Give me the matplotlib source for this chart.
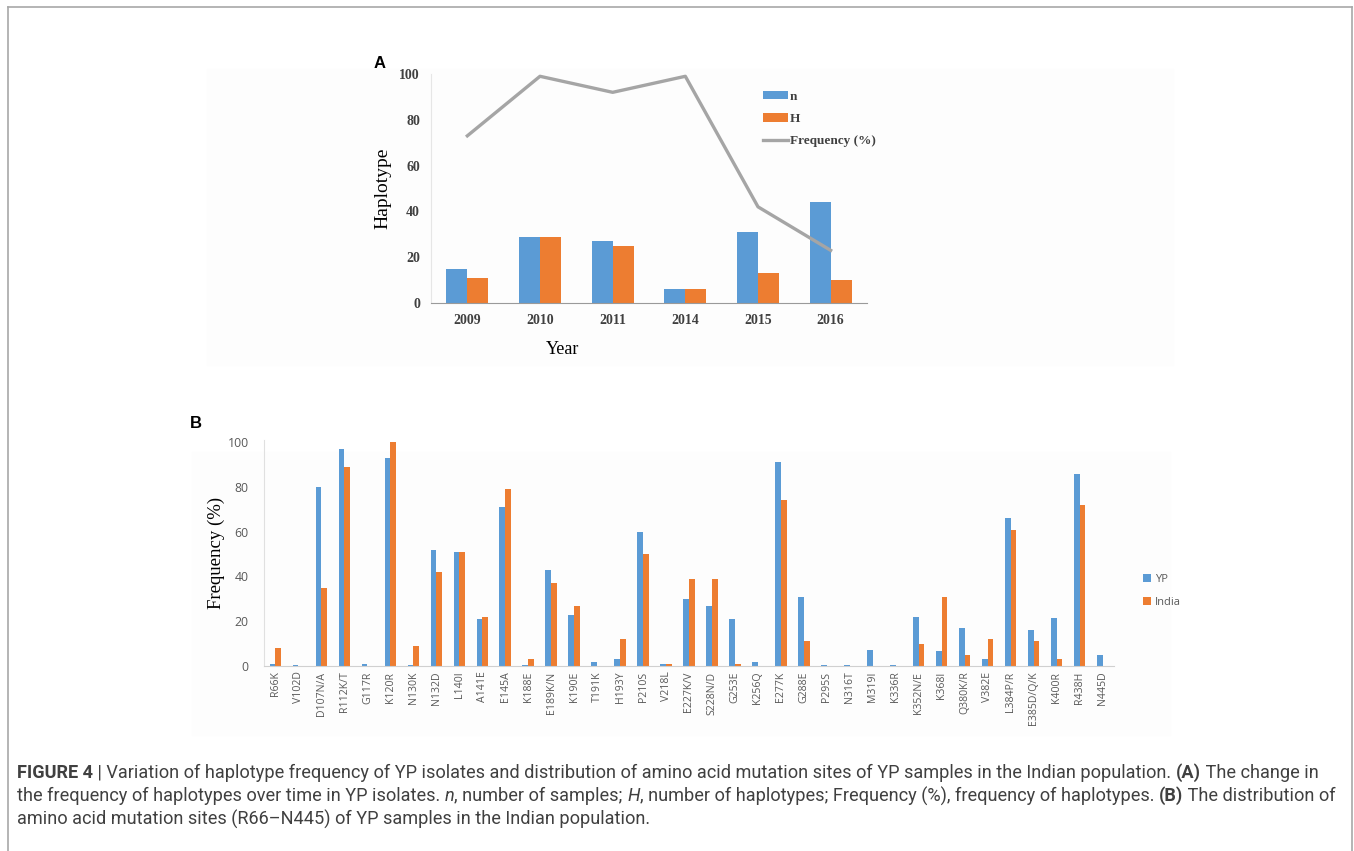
import matplotlib.pyplot as plt
import matplotlib.patches as mpatches
from matplotlib.lines import Line2D
import numpy as np

# Panel A: haplotypes per year
years = ['2009', '2010', '2011', '2014', '2015', '2016']
n_samples = [15, 29, 27, 6, 31, 44]
n_haplo = [11, 29, 25, 6, 13, 10]
hap_freq = [73, 99, 92, 99, 42, 23]

# Panel B: mutation site frequencies
sites = ['R66K', 'V102D', 'D107N/A', 'R112K/T', 'G117R', 'K120R', 'N130K', 'N132D',
         'L140I', 'A141E', 'E145A', 'K188E', 'E189K/N', 'K190E', 'T191K', 'H193Y',
         'P210S', 'V218L', 'E227K/V', 'S228N/D', 'G253E', 'K256Q', 'E277K', 'G288E',
         'P295S', 'N316T', 'M319I', 'K336R', 'K352N/E', 'K368I', 'Q380K/R', 'V382E',
         'L384P/R', 'E385D/Q/K', 'K400R', 'R438H', 'N445D']
yp = [1, 0.5, 80, 97, 1, 93, 0.3, 52,
      51, 21, 71, 0.3, 43, 23, 2, 3,
      60, 1, 30, 27, 21, 2, 91, 31,
      0.3, 0.3, 7, 0.3, 22, 6.5, 17, 3,
      66, 16, 21.5, 86, 5]
india = [8, 0, 35, 89, 0, 100, 9, 42,
         51, 22, 79, 3, 37, 27, 0, 12,
         50, 0.8, 39, 39, 1, 0, 74, 11,
         0, 0, 0, 0, 10, 31, 5, 12,
         61, 11, 3, 72, 0]

BLUE = '#5b9bd5'
ORANGE = '#ed7d31'
GRAY = '#a5a5a5'
W, H = 1354, 851

fig = plt.figure(figsize=(W / 100, H / 100), dpi=100)


def fx(px):
    return px / W


def fy(py):
    return 1 - py / H


# outer frame (top, left, right)
frame = dict(color='#a8a8a8', lw=1.2, transform=fig.transFigure)
fig.add_artist(Line2D([fx(8), fx(1352)], [fy(7), fy(7)], **frame))
fig.add_artist(Line2D([fx(8), fx(8)], [fy(7), fy(851)], **frame))
fig.add_artist(Line2D([fx(1352), fx(1352)], [fy(7), fy(851)], **frame))

# faint panel backgrounds
fig.add_artist(mpatches.Rectangle((fx(207), fy(365)), fx(1173) - fx(207), fy(69) - fy(365),
                                  transform=fig.transFigure, color='#fdfdfd', zorder=-5))
fig.add_artist(mpatches.Rectangle((fx(192), fy(735)), fx(1170) - fx(192), fy(452) - fy(735),
                                  transform=fig.transFigure, color='#fdfdfd', zorder=-5))

# ---------- Panel A ----------
serif = 'Liberation Serif'
axA = fig.add_axes([fx(431), fy(303), fx(867) - fx(431), fy(74) - fy(303)])
axA.patch.set_alpha(0)
xa = np.arange(len(years))
bw = 0.29
bn = axA.bar(xa - bw / 2, n_samples, bw, color=BLUE, label='n')
bh = axA.bar(xa + bw / 2, n_haplo, bw, color=ORANGE, label='H')
ln, = axA.plot(xa, hap_freq, color=GRAY, lw=2.4, label='Frequency (%)')
axA.set_xlim(-0.5, len(years) - 0.5)
axA.set_ylim(0, 100)
axA.set_yticks(range(0, 101, 20))
axA.set_xticks(xa)
axA.set_xticklabels(years)
for s in ['top', 'right']:
    axA.spines[s].set_visible(False)
axA.spines['left'].set_color('#e6e6e6')
axA.spines['bottom'].set_color('#9a9a9a')
axA.tick_params(length=0, labelsize=10, labelcolor='#404040', pad=8)
for t in axA.get_xticklabels() + axA.get_yticklabels():
    t.set_fontfamily(serif)
    t.set_fontweight('bold')
axA.set_ylabel('Haplotype', fontfamily=serif, fontsize=14, labelpad=6)
fig.text(fx(563), fy(349), 'Year', fontfamily=serif, fontsize=13, ha='center', va='center')
fig.text(fx(380), fy(63), 'A', fontfamily='Liberation Sans', fontweight='bold',
         fontsize=12, ha='center', va='center')
legA = axA.legend([bn, bh, ln], ['n', 'H', 'Frequency (%)'],
                  loc='upper left', bbox_to_anchor=(fx(751), fy(79)),
                  bbox_transform=fig.transFigure, frameon=False,
                  prop=dict(family=serif, weight='bold', size=9.5),
                  handlelength=1.9, handleheight=0.6, handletextpad=0.15,
                  labelspacing=0.78)
for t in legA.get_texts():
    t.set_color('#404040')

# ---------- Panel B ----------
sans = 'Open Sans'
axB = fig.add_axes([fx(264), fy(666), fx(1114) - fx(264), fy(440) - fy(666)])
axB.patch.set_alpha(0)
xb = np.arange(len(sites))
wb = 0.25
axB.bar(xb - wb / 2, yp, wb, color=BLUE, label='YP')
axB.bar(xb + wb / 2, india, wb, color=ORANGE, label='India')
axB.set_xlim(-0.5, len(sites) - 0.5)
axB.set_ylim(0, 101)
axB.set_yticks(range(0, 101, 20))
axB.set_xticks(xb)
axB.set_xticklabels(sites, rotation=90)
for s in ['top', 'right']:
    axB.spines[s].set_visible(False)
axB.spines['left'].set_color('#e0e0e0')
axB.spines['bottom'].set_color('#d0d0d0')
axB.tick_params(length=0, labelcolor='#595959')
axB.tick_params(axis='x', labelsize=7.6, pad=4)
axB.tick_params(axis='y', labelsize=8.8, pad=11)
for t in axB.get_xticklabels() + axB.get_yticklabels():
    t.set_fontfamily(sans)
axB.set_ylabel('Frequency (%)', fontfamily=serif, fontsize=13.5, labelpad=2)
fig.text(fx(196), fy(423), 'B', fontfamily='Liberation Sans', fontweight='bold',
         fontsize=12, ha='center', va='center')
legB = axB.legend(loc='upper left', bbox_to_anchor=(fx(1133), fy(564)),
                  bbox_transform=fig.transFigure, frameon=False,
                  prop=dict(family=sans, size=8), handlelength=0.7, handleheight=0.7,
                  handletextpad=0.4, labelspacing=1.1)
for t in legB.get_texts():
    t.set_color('#595959')

# ---------- Caption ----------
cap_family = ['Liberation Sans Narrow', 'Roboto', 'DejaVu Sans']
cap_color = '#404040'
lines = [
    [('FIGURE 4', 'bold', 'normal'),
     (' | Variation of haplotype frequency of YP isolates and distribution of amino acid '
      'mutation sites of YP samples in the Indian population. ', 'normal', 'normal'),
     ('(A)', 'bold', 'normal'), (' The change in', 'normal', 'normal')],
    [('the frequency of haplotypes over time in YP isolates. ', 'normal', 'normal'),
     ('n', 'normal', 'italic'), (', number of samples; ', 'normal', 'normal'),
     ('H', 'normal', 'italic'),
     (', number of haplotypes; Frequency (%), frequency of haplotypes. ', 'normal', 'normal'),
     ('(B)', 'bold', 'normal'), (' The distribution of', 'normal', 'normal')],
    [('amino acid mutation sites (R66\u2013N445) of YP samples in the Indian population.',
      'normal', 'normal')],
]
line_y = [773, 796, 819]
renderer = fig.canvas.get_renderer()


def seg_width(txt, size, weight, style):
    # measure with guard characters so leading/trailing spaces count
    a = fig.text(0, 0, '|' + txt + '|', fontsize=size, fontweight=weight,
                 fontstyle=style, fontfamily=cap_family)
    b = fig.text(0, 0, '||', fontsize=size, fontweight=weight,
                 fontstyle=style, fontfamily=cap_family)
    w = a.get_window_extent(renderer).width - b.get_window_extent(renderer).width
    a.remove()
    b.remove()
    return w


# pick a size so the second line spans the text block
ref = sum(seg_width(t, 10, w, s) for t, w, s in lines[1])
cap_size = 10 * (1339 - 17) / ref

for segs, yl in zip(lines, line_y):
    x = 17
    for txt, weight, style in segs:
        fig.text(fx(x), fy(yl), txt, fontsize=cap_size, fontweight=weight,
                 fontstyle=style, fontfamily=cap_family, color=cap_color,
                 ha='left', va='center')
        x += seg_width(txt, cap_size, weight, style)

fig.savefig('out.png', dpi=100)
